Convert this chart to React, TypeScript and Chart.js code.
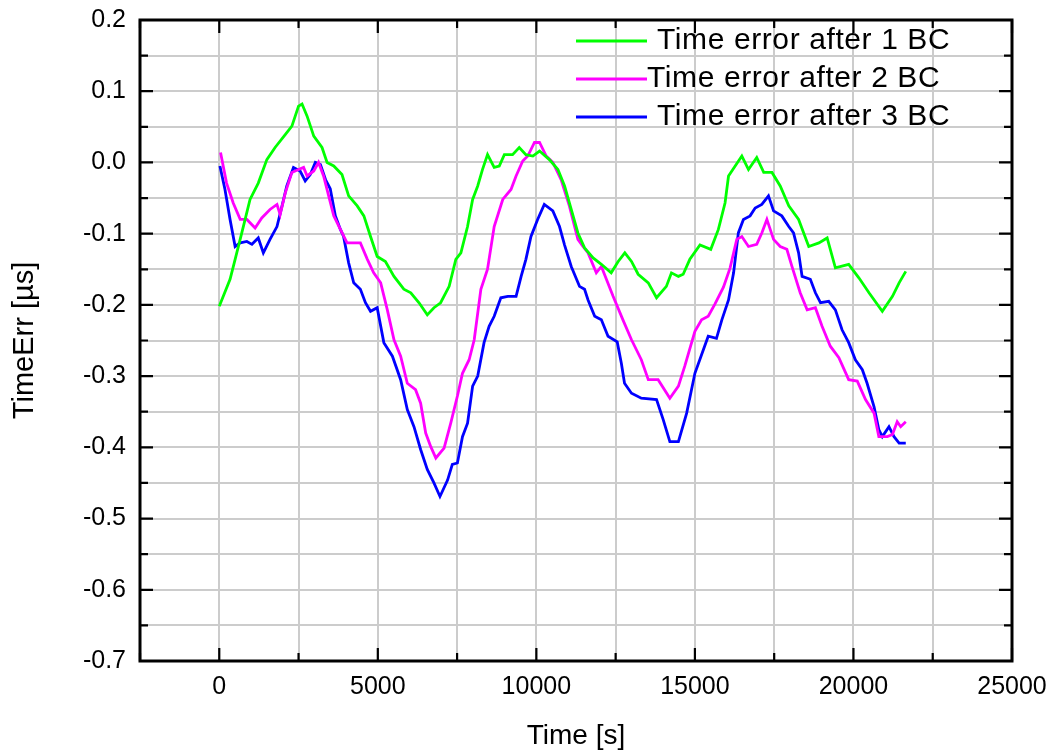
import React, { useEffect, useRef } from "react";
import { Chart, registerables } from "chart.js";

Chart.register(...registerables);

// ---- Data ----
const seriesLabels = ["Time error after 1 BC", "Time error after 2 BC", "Time error after 3 BC"];
const seriesColors = ["#00ff00", "#ff00ff", "#0000ff"];

const timeBC1 = [0, 340, 500, 710, 970, 1230, 1500, 1760, 2080, 2290, 2500, 2610, 2770, 2980, 3240, 3400, 3610, 3870, 4080, 4350, 4560, 4770, 4980, 5240, 5510, 5820, 6040, 6300, 6560, 6770, 6980, 7250, 7460, 7620, 7830, 7990, 8150, 8300, 8460, 8670, 8830, 8990, 9250, 9460, 9670, 9890, 10100, 10410, 10680, 10890, 11100, 11310, 11520, 11790, 12050, 12360, 12580, 12790, 13000, 13210, 13530, 13790, 14100, 14260, 14480, 14630, 14840, 15160, 15500, 15740, 15950, 16060, 16270, 16480, 16690, 16950, 17170, 17430, 17690, 17960, 18270, 18590, 18910, 19170, 19430, 19850, 20170, 20490, 20910, 21230, 21440, 21650];
const errBC1 = [-0.202, -0.164, -0.136, -0.099, -0.052, -0.029, 0.004, 0.021, 0.039, 0.051, 0.079, 0.082, 0.065, 0.037, 0.021, 0.0, -0.005, -0.017, -0.047, -0.061, -0.075, -0.104, -0.132, -0.139, -0.16, -0.178, -0.183, -0.197, -0.214, -0.204, -0.197, -0.174, -0.136, -0.127, -0.09, -0.052, -0.033, -0.01, 0.011, -0.007, -0.005, 0.011, 0.011, 0.021, 0.011, 0.009, 0.016, 0.004, -0.01, -0.033, -0.066, -0.099, -0.12, -0.134, -0.143, -0.155, -0.139, -0.127, -0.139, -0.157, -0.169, -0.19, -0.174, -0.155, -0.16, -0.157, -0.136, -0.116, -0.122, -0.094, -0.057, -0.019, -0.005, 0.009, -0.01, 0.007, -0.014, -0.014, -0.033, -0.061, -0.08, -0.118, -0.113, -0.106, -0.148, -0.143, -0.162, -0.183, -0.209, -0.188, -0.169, -0.153];

const timeBC2 = [40, 230, 440, 660, 870, 1130, 1340, 1600, 1820, 1920, 2080, 2290, 2500, 2660, 2770, 2980, 3130, 3290, 3450, 3610, 3820, 4030, 4450, 4670, 4870, 5090, 5300, 5510, 5720, 5930, 6190, 6350, 6510, 6670, 6830, 7090, 7300, 7510, 7670, 7880, 8040, 8250, 8460, 8670, 8940, 9200, 9360, 9570, 9730, 9940, 10100, 10310, 10520, 10780, 11040, 11310, 11470, 11630, 11890, 12050, 12420, 12730, 13000, 13310, 13530, 13840, 14210, 14480, 14680, 15000, 15210, 15420, 15630, 15900, 16110, 16320, 16480, 16690, 16950, 17110, 17270, 17480, 17690, 17900, 18060, 18320, 18540, 18800, 19010, 19270, 19540, 19850, 20120, 20380, 20650, 20800, 21070, 21230, 21380, 21490, 21650];
const errBC2 = [0.014, -0.029, -0.057, -0.08, -0.08, -0.092, -0.078, -0.066, -0.059, -0.073, -0.043, -0.014, -0.01, -0.007, -0.019, -0.012, 0.0, -0.019, -0.047, -0.075, -0.094, -0.113, -0.113, -0.136, -0.155, -0.169, -0.207, -0.249, -0.272, -0.31, -0.319, -0.338, -0.38, -0.399, -0.415, -0.401, -0.366, -0.328, -0.296, -0.277, -0.249, -0.178, -0.15, -0.09, -0.052, -0.038, -0.019, 0.002, 0.009, 0.028, 0.028, 0.009, 0.0, -0.024, -0.061, -0.108, -0.118, -0.127, -0.155, -0.146, -0.188, -0.221, -0.249, -0.277, -0.305, -0.305, -0.331, -0.314, -0.286, -0.237, -0.221, -0.216, -0.199, -0.175, -0.148, -0.108, -0.104, -0.118, -0.115, -0.099, -0.08, -0.108, -0.118, -0.122, -0.146, -0.183, -0.207, -0.204, -0.23, -0.258, -0.274, -0.305, -0.307, -0.333, -0.352, -0.385, -0.385, -0.382, -0.364, -0.371, -0.364];

const timeBC3 = [20, 180, 340, 500, 660, 870, 1030, 1230, 1390, 1600, 1820, 1980, 2130, 2340, 2550, 2710, 2870, 3030, 3190, 3350, 3500, 3660, 3820, 3920, 4080, 4240, 4450, 4610, 4770, 4980, 5190, 5460, 5720, 5930, 6140, 6350, 6560, 6770, 6960, 7200, 7350, 7510, 7670, 7830, 7990, 8150, 8350, 8510, 8670, 8880, 9100, 9360, 9520, 9670, 9830, 10040, 10250, 10520, 10730, 10890, 11100, 11360, 11520, 11630, 11840, 12050, 12260, 12550, 12680, 12780, 13000, 13310, 13790, 14000, 14210, 14480, 14740, 15000, 15210, 15420, 15680, 15850, 16060, 16220, 16370, 16530, 16740, 16900, 17110, 17320, 17480, 17740, 17960, 18110, 18270, 18380, 18640, 18800, 18960, 19220, 19430, 19640, 19850, 20060, 20280, 20430, 20650, 20800, 20910, 21120, 21280, 21440, 21650];
const errBC3 = [-0.005, -0.038, -0.08, -0.118, -0.113, -0.111, -0.115, -0.106, -0.127, -0.108, -0.09, -0.061, -0.033, -0.007, -0.012, -0.026, -0.017, 0.0, -0.003, -0.024, -0.037, -0.075, -0.094, -0.104, -0.141, -0.169, -0.178, -0.197, -0.209, -0.204, -0.253, -0.272, -0.305, -0.347, -0.371, -0.403, -0.431, -0.45, -0.469, -0.446, -0.424, -0.422, -0.385, -0.366, -0.314, -0.3, -0.253, -0.23, -0.216, -0.19, -0.188, -0.188, -0.16, -0.136, -0.104, -0.08, -0.059, -0.068, -0.09, -0.116, -0.146, -0.174, -0.178, -0.193, -0.216, -0.221, -0.244, -0.252, -0.282, -0.31, -0.324, -0.331, -0.333, -0.361, -0.392, -0.392, -0.352, -0.296, -0.27, -0.244, -0.247, -0.221, -0.193, -0.155, -0.099, -0.08, -0.075, -0.064, -0.059, -0.047, -0.068, -0.075, -0.09, -0.099, -0.127, -0.16, -0.164, -0.183, -0.197, -0.195, -0.207, -0.235, -0.253, -0.277, -0.291, -0.31, -0.343, -0.375, -0.385, -0.371, -0.385, -0.394, -0.394];

const xMin = -2500;
const xMax = 25000;
const xStep = 2500;
const xLabelEvery = 5000;
const yMin = -0.7;
const yMax = 0.2;
const yStep = 0.05;
const xTitle = "Time [s]";
const yTitle = "TimeErr [µs]";

const FONT = "'Liberation Sans', Arial, sans-serif";

const toPoints = (t: number[], v: number[]) => t.map((x, i) => ({ x, y: v[i] }));

const framePlugin = {
  id: "frameTicks",
  afterDatasetsDraw(chart: any) {
    const { ctx, chartArea } = chart;
    const xs = chart.scales.x;
    const ys = chart.scales.y;
    ctx.save();
    ctx.strokeStyle = "#000";
    ctx.lineWidth = 2.2;
    xs.ticks.forEach((tk: any) => {
      const v = tk.value;
      const px = xs.getPixelForValue(v);
      const len = Math.abs(Math.round(v) % xLabelEvery) === 0 ? 13 : 8;
      ctx.beginPath();
      ctx.moveTo(px, chartArea.bottom);
      ctx.lineTo(px, chartArea.bottom - len);
      ctx.moveTo(px, chartArea.top);
      ctx.lineTo(px, chartArea.top + len);
      ctx.stroke();
    });
    ys.ticks.forEach((tk: any) => {
      const v = tk.value;
      const py = ys.getPixelForValue(v);
      const len = Math.round(v * 20) % 2 === 0 ? 13 : 8;
      ctx.beginPath();
      ctx.moveTo(chartArea.left, py);
      ctx.lineTo(chartArea.left + len, py);
      ctx.moveTo(chartArea.right, py);
      ctx.lineTo(chartArea.right - len, py);
      ctx.stroke();
    });
    ctx.lineWidth = 3;
    ctx.strokeRect(chartArea.left, chartArea.top, chartArea.right - chartArea.left, chartArea.bottom - chartArea.top);
    ctx.restore();
  },
  afterDraw(chart: any) {
    const { ctx } = chart;
    const lineX0 = 576;
    const lineX1 = 647;
    const rowY = [41, 79, 117];
    const textX = [657, 647, 657];
    ctx.save();
    ctx.font = `30px ${FONT}`;
    ctx.textBaseline = "middle";
    ctx.textAlign = "left";
    try {
      (ctx as any).letterSpacing = "0.6px";
    } catch (e) {
      /* ignore */
    }
    chart.data.datasets.forEach((ds: any, i: number) => {
      ctx.strokeStyle = ds.borderColor;
      ctx.lineWidth = 3;
      ctx.beginPath();
      ctx.moveTo(lineX0, rowY[i]);
      ctx.lineTo(lineX1, rowY[i]);
      ctx.stroke();
      ctx.fillStyle = "#000";
      ctx.fillText(ds.label, textX[i], rowY[i]);
    });
    ctx.restore();
  },
};

export default function App() {
  const ref = useRef<HTMLCanvasElement>(null);
  useEffect(() => {
    document.body.style.margin = "0";
    const canvas = ref.current;
    if (!canvas) return;
    const chart = new Chart(canvas, {
      type: "line",
      data: {
        datasets: [
          { label: seriesLabels[0], data: toPoints(timeBC1, errBC1), borderColor: seriesColors[0], backgroundColor: seriesColors[0] },
          { label: seriesLabels[1], data: toPoints(timeBC2, errBC2), borderColor: seriesColors[1], backgroundColor: seriesColors[1] },
          { label: seriesLabels[2], data: toPoints(timeBC3, errBC3), borderColor: seriesColors[2], backgroundColor: seriesColors[2] },
        ],
      },
      options: {
        responsive: false,
        animation: false,
        devicePixelRatio: 1,
        layout: { padding: { top: 20, right: 38, left: 0, bottom: 0 } },
        elements: {
          point: { radius: 0 },
          line: { borderWidth: 2.8, tension: 0 },
        },
        plugins: {
          legend: { display: false },
          tooltip: { enabled: false },
        },
        scales: {
          x: {
            type: "linear",
            min: xMin,
            max: xMax,
            afterFit: (s: any) => {
              s.height = 90;
              s.paddingLeft = 0;
              s.paddingRight = 0;
            },
            ticks: {
              stepSize: xStep,
              autoSkip: false,
              maxRotation: 0,
              padding: 11,
              color: "#000",
              font: { family: FONT, size: 25 },
              callback: (v: any) => (Math.abs(Math.round(v) % xLabelEvery) === 0 ? String(Math.round(v)) : ""),
            },
            grid: { color: "#cccccc", lineWidth: 2, drawTicks: false },
            border: { display: false },
            title: {
              display: true,
              text: xTitle,
              color: "#000",
              font: { family: FONT, size: 28, lineHeight: 1 },
              padding: { top: 0, bottom: 1 },
            },
          },
          y: {
            type: "linear",
            min: yMin,
            max: yMax,
            afterFit: (s: any) => {
              s.width = 140;
              s.paddingTop = 0;
              s.paddingBottom = 0;
            },
            ticks: {
              stepSize: yStep,
              autoSkip: false,
              padding: 14,
              color: "#000",
              font: { family: FONT, size: 25 },
              callback: (v: any) => {
                const k = Math.round(v * 20);
                return k % 2 === 0 ? (k / 20).toFixed(1) : "";
              },
            },
            grid: { color: "#cccccc", lineWidth: 2, drawTicks: false },
            border: { display: false },
            title: {
              display: true,
              text: yTitle,
              color: "#000",
              font: { family: FONT, size: 29, lineHeight: 1 },
              padding: { top: 10, bottom: 0 },
            },
          },
        },
      },
      plugins: [framePlugin],
    } as any);
    return () => chart.destroy();
  }, []);
  return (
    <div style={{ position: "absolute", left: 0, top: 0, width: 1050, height: 751, background: "#fff" }}>
      <canvas ref={ref} width={1050} height={751} style={{ display: "block" }} />
    </div>
  );
}
